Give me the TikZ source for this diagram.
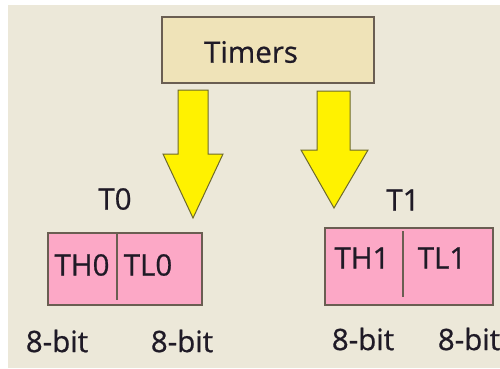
\documentclass[tikz,border=0pt]{standalone}
\usepackage{fontspec}
\setmainfont{Open Sans}
\newfontfamily\labelfont[FakeBold=0.7]{Open Sans}
\begin{document}
\begin{tikzpicture}[x=1pt,y=-1pt,
  txt/.style={text=inkc,font=\labelfont\fontsize{29.5}{32}\selectfont,inner sep=0pt,anchor=center},
  regbox/.style={draw=boxline,line width=1.2pt,fill=regpink},
  bigarrow/.style={draw=arrline,line width=1pt,fill=arrfill,line join=miter}]
\definecolor{bgc}{HTML}{ECE8D9}
\definecolor{topfill}{HTML}{EFE3B8}
\definecolor{boxline}{HTML}{6A5E52}
\definecolor{regpink}{HTML}{FCA8C6}
\definecolor{arrfill}{HTML}{FFF200}
\definecolor{arrline}{HTML}{6E6A2C}
\definecolor{inkc}{HTML}{1F1A26}
% page and beige panel
\useasboundingbox (0,0) rectangle (500,368);
\fill[white] (0,0) rectangle (500,368);
\fill[bgc] (8,5) rectangle (500,368);
% top block
\node[draw=boxline,line width=1.2pt,fill=topfill,minimum width=212pt,minimum height=66pt,inner sep=0pt] (timers) at (268,50) {};
\node[txt] (timerstxt) at (251,52) {Timers};
% arrows
\draw[bigarrow] (178,90) -- (208,90) -- (208,154) -- (223,154) -- (193,218) -- (163,154) -- (178,154) -- cycle;
\draw[bigarrow] (317,91) -- (350,91) -- (350,150) -- (368,150) -- (334,208) -- (301,150) -- (317,150) -- cycle;
% timer 0
\node[txt] (t0) at (115,199) {T0};
\node[regbox,minimum width=154pt,minimum height=72pt,inner sep=0pt] (reg0) at (125,269) {};
\draw[boxline,line width=1.2pt] (117,233) -- (117,300);
\node[txt] (th0) at (82,265) {TH0};
\node[txt] (tl0) at (148,265) {TL0};
\node[txt] (b0h) at (57,341) {8-bit};
\node[txt] (b0l) at (182,341) {8-bit};
% timer 1
\node[txt] (t1) at (403,200) {T1};
\node[regbox,minimum width=168pt,minimum height=77pt,inner sep=0pt] (reg1) at (409,266.5) {};
\draw[boxline,line width=1.2pt] (403,231) -- (403,297);
\node[txt] (th1) at (362,258) {TH1};
\node[txt] (tl1) at (442,258) {TL1};
\node[txt] (b1h) at (363,339) {8-bit};
\node[txt] (b1l) at (469,339) {8-bit};
\end{tikzpicture}
\end{document}
